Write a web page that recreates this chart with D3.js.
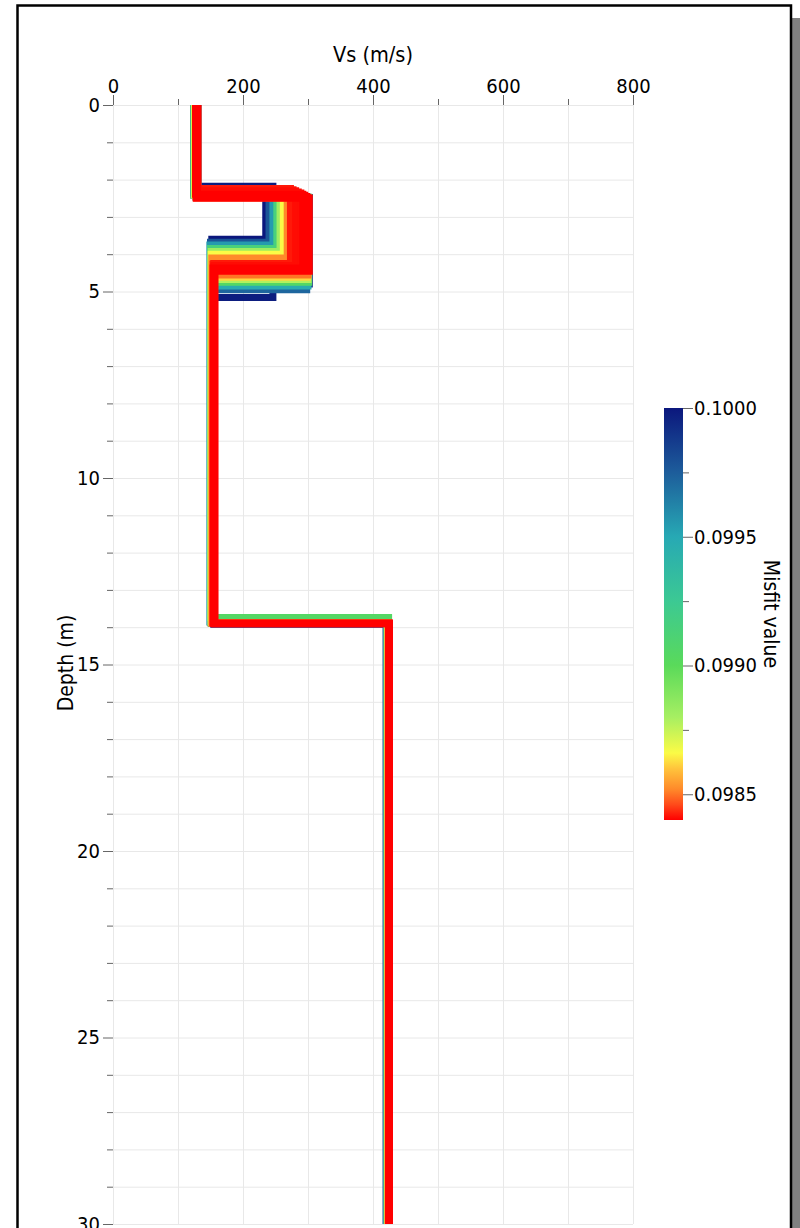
<!DOCTYPE html>
<html>
<head>
<meta charset="utf-8">
<script src="https://cdn.jsdelivr.net/npm/d3@7"></script>
<style>
  body { margin: 0; background: #fff; }
  text { font-family: "DejaVu Sans Condensed", "DejaVu Sans", sans-serif; fill: #000; }
</style>
</head>
<body>
<script>
// Vs profiles of the inversion ensemble, worst misfit first (drawn first)
const misfit = [0.10000, 0.09998, 0.09996, 0.09978, 0.09972, 0.09955, 0.09948, 0.09915, 0.09905,
                0.09882, 0.09878, 0.09866, 0.09862, 0.09852, 0.09850,
                0.09842, 0.09842, 0.09841, 0.09841, 0.09841, 0.09840, 0.09840, 0.09840, 0.09840, 0.09840]
const vs1 = [126, 127, 128, 124, 130, 124, 131, 125, 130, 125, 129, 126, 128, 127, 129,
             130, 127, 129, 128, 131, 127, 129, 128, 130, 128]
const d1  = [2.30, 2.18, 2.48, 2.36, 2.46, 2.42, 2.47, 2.40, 2.47, 2.42, 2.48, 2.40, 2.48, 2.38, 2.49,
             2.24, 2.27, 2.30, 2.33, 2.36, 2.39, 2.42, 2.45, 2.48, 2.50]
const vs2 = [235, 246, 302, 240, 298, 246, 300, 252, 301, 257, 300, 262, 299, 268, 300,
             273, 277, 281, 285, 289, 292, 295, 298, 300, 302]
const d2  = [3.60, 5.16, 4.80, 3.68, 4.95, 3.75, 4.85, 3.85, 4.75, 3.93, 4.68, 4.00, 4.62, 4.10, 4.56,
             4.25, 4.27, 4.30, 4.32, 4.35, 4.37, 4.40, 4.42, 4.44, 4.46]
const vs3 = [152, 155, 154, 150, 153, 149, 152, 150, 153, 151, 154, 151, 153, 152, 154,
             155, 154, 156, 155, 157, 154, 155, 156, 155, 155]
const d3v = [13.90, 13.92, 13.90, 13.88, 13.90, 13.86, 13.90, 13.74, 13.74, 13.88, 13.90, 13.88, 13.90, 13.89, 13.90,
             13.90, 13.89, 13.91, 13.90, 13.90, 13.89, 13.90, 13.91, 13.90, 13.90]
const vs4 = [421, 423, 424, 420, 423, 421, 424, 422, 424, 422, 424, 423, 424, 423, 425,
             424, 425, 424, 425, 424, 425, 424, 425, 424, 425]

const xTicks = [0, 200, 400, 600, 800]
const xMinor = [100, 300, 500, 700]
const yTicks = [0, 5, 10, 15, 20, 25, 30]
const cTicks = [0.0985, 0.0990, 0.0995, 0.1000]
const cMinor = [0.09875, 0.09925, 0.09975]

// colour map (misfit -> colour)
const cmapVal = [0.09840, 0.09846, 0.09852, 0.09860, 0.09866, 0.09880, 0.09900, 0.09925, 0.09950, 0.09975, 0.10000]
const cmapCol = ["#ff0000", "#ff4a1a", "#ff8a2a", "#ffc43c", "#fbfb46", "#a6ef62", "#5ada5a",
                 "#3cc993", "#27a9b4", "#1d5d9b", "#0b177d"]

const W = 800, H = 1228
const svg = d3.select('body').append('svg')
    .attr('width', W).attr('height', H)

// frame + shadow
svg.append('rect').attr('x', 792).attr('y', 18).attr('width', 8).attr('height', H)
    .attr('fill', '#808080')
svg.append('rect').attr('x', 17.5).attr('y', 5.5).attr('width', 773.5).attr('height', H + 50)
    .attr('fill', '#fff').attr('stroke', '#000').attr('stroke-width', 2.5)

const x = d3.scaleLinear().domain([0, 800]).range([113, 633])
const y = d3.scaleLinear().domain([0, 30]).range([105, 1224])
const color = d3.scaleLinear().domain(cmapVal).range(cmapCol)

// grid
const grid = svg.append('g').attr('stroke', '#e8e8e8').attr('stroke-width', 1)
grid.selectAll('.gx').data(d3.range(0, 801, 100)).enter().append('line')
    .attr('x1', d => x(d) + 0.5).attr('x2', d => x(d) + 0.5)
    .attr('y1', y(0)).attr('y2', y(30))
grid.selectAll('.gy').data(d3.range(0, 31, 1)).enter().append('line')
    .attr('x1', x(0)).attr('x2', x(800))
    .attr('y1', d => y(d) + 0.5).attr('y2', d => y(d) + 0.5)

// axes
function styleAxis(g) {
    g.select('.domain').remove()
    g.selectAll('line').attr('stroke', '#666')
    g.selectAll('text').style('font-size', '20px')
        .style('font-family', '"DejaVu Sans Condensed", "DejaVu Sans", sans-serif')
}
svg.append('g').attr('transform', `translate(0,${y(0)})`)
    .call(d3.axisTop(x).tickValues(xTicks).tickSize(10).tickPadding(2))
    .call(styleAxis)
svg.append('g').attr('transform', `translate(0,${y(0)})`)
    .call(d3.axisTop(x).tickValues(xMinor).tickSize(6).tickFormat(''))
    .call(styleAxis)
svg.append('g').attr('transform', `translate(${x(0)},0)`)
    .call(d3.axisLeft(y).tickValues(yTicks).tickSize(10).tickPadding(3))
    .call(styleAxis)
svg.append('g').attr('transform', `translate(${x(0)},0)`)
    .call(d3.axisLeft(y).tickValues(d3.range(0, 31).filter(d => d % 5)).tickSize(6).tickFormat(''))
    .call(styleAxis)

svg.append('text').attr('x', 373).attr('y', 62).attr('text-anchor', 'middle')
    .style('font-size', '21.5px').text('Vs (m/s)')
svg.append('text').attr('transform', 'translate(66,663) rotate(-90)')
    .attr('text-anchor', 'middle').attr('dominant-baseline', 'central')
    .style('font-size', '21px').text('Depth (m)')

// profiles
const line = d3.line().x(d => x(d[0])).y(d => y(d[1]))
const profiles = misfit.map((m, i) => ({
    m: m,
    pts: [[vs1[i], 0], [vs1[i], d1[i]], [vs2[i], d1[i]], [vs2[i], d2[i]],
          [vs3[i], d2[i]], [vs3[i], d3v[i]], [vs4[i], d3v[i]], [vs4[i], 30]]
}))
svg.append('g').selectAll('path').data(profiles).enter().append('path')
    .attr('d', d => line(d.pts))
    .attr('fill', 'none')
    .attr('stroke', d => color(d.m))
    .attr('stroke-width', 7)
    .attr('stroke-linejoin', 'miter')

// colour bar
const cy = d3.scaleLinear().domain([0.0984, 0.1000]).range([820, 408])
const grad = svg.append('defs').append('linearGradient').attr('id', 'cbar')
    .attr('x1', 0).attr('y1', 1).attr('x2', 0).attr('y2', 0)
grad.selectAll('stop').data(cmapVal).enter().append('stop')
    .attr('offset', d => (d - 0.0984) / 0.0016)
    .attr('stop-color', (d, i) => cmapCol[i])
svg.append('rect').attr('x', 664).attr('y', cy(0.1)).attr('width', 19)
    .attr('height', cy(0.0984) - cy(0.1)).attr('fill', 'url(#cbar)')
svg.append('g').attr('transform', 'translate(683,0)')
    .call(d3.axisRight(cy).tickValues(cTicks).tickSize(10).tickPadding(1).tickFormat(d3.format('.4f')))
    .call(styleAxis)
svg.append('g').attr('transform', 'translate(683,0)')
    .call(d3.axisRight(cy).tickValues(cMinor).tickSize(6).tickFormat(''))
    .call(styleAxis)
svg.append('text').attr('transform', 'translate(771,614) rotate(90)')
    .attr('text-anchor', 'middle').attr('dominant-baseline', 'central')
    .style('font-size', '21px').text('Misfit value')
</script>
</body>
</html>
